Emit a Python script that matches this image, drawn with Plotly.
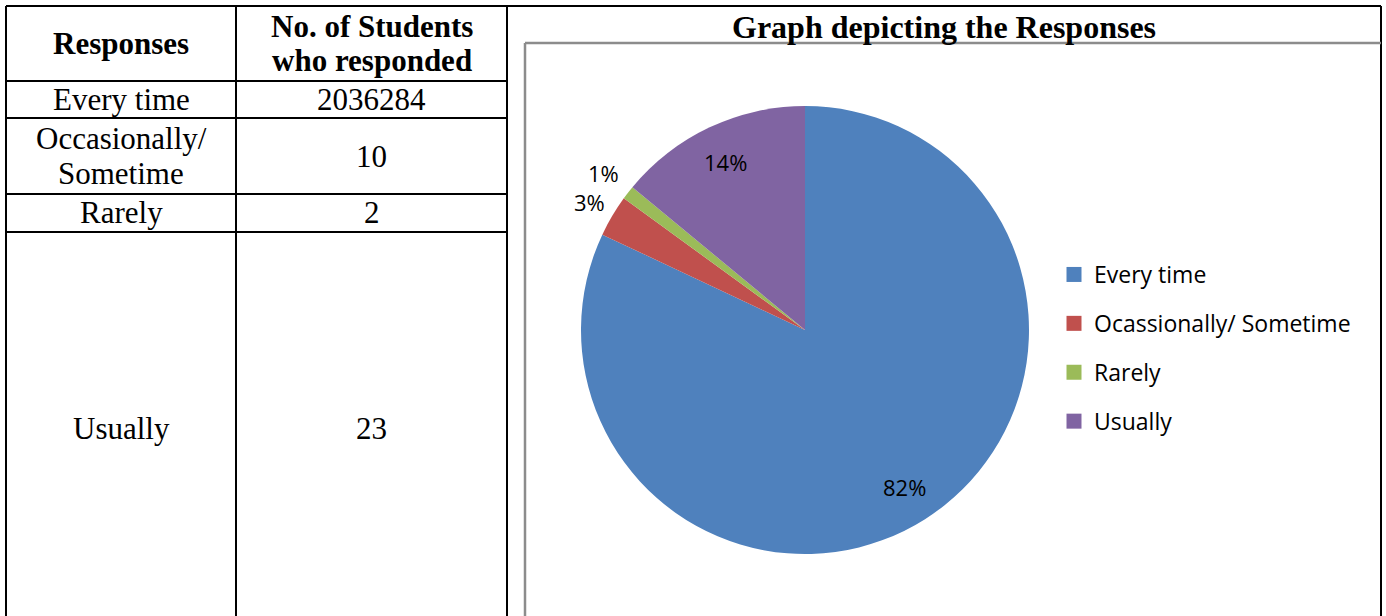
import math
import plotly.graph_objects as go

# ---- data ----
responses = ["Every time", "Occasionally/\nSometime", "Rarely", "Usually"]
students = ["2036284", "10", "2", "23"]
header = ["Responses", "No. of Students\nwho responded"]
pie_labels = ["Every time", "Ocassionally/ Sometime", "Rarely", "Usually"]
pie_percent = [82, 3, 1, 14]
chart_title = "Graph depicting the Responses"

colors = ["#4F81BD", "#C0504D", "#9BBB59", "#8064A2"]
label_radius = [0.83, 1.12, 1.14, 0.83]  # label distance as fraction of pie radius

W, H = 1386, 616
SERIF = "Liberation Serif"
SANS = "Open Sans"

# layout geometry (pixels)
row_edges = [6, 81, 118, 194, 232, 624]
col_edges = [6, 236, 507]
right_edge = 1381
frame_left, frame_top = 525, 43


def px(x):
    return x / W


def py(y):
    return 1 - y / H


shapes = []
annotations = []


def line(x0, y0, x1, y1, color="black", width=2):
    shapes.append(dict(type="line", xref="paper", yref="paper",
                       x0=px(x0), y0=py(y0), x1=px(x1), y1=py(y1),
                       line=dict(color=color, width=width)))


# table grid
line(col_edges[0], row_edges[0], right_edge, row_edges[0])
for y in row_edges[1:-1]:
    line(col_edges[0], y, col_edges[-1], y)
for x in col_edges:
    line(x, row_edges[0], x, H)
line(right_edge, row_edges[0], right_edge, H)
# chart frame (gray)
line(frame_left, frame_top, right_edge, frame_top, color="#8C8C8C", width=2.5)
line(frame_left, frame_top, frame_left, H, color="#8C8C8C", width=2.5)


def cell_text(text, col, row, bold=False, size=31):
    lines = text.split("\n")
    cx = (col_edges[col] + col_edges[col + 1]) / 2
    cy = (row_edges[row] + row_edges[row + 1]) / 2
    step = 35
    start = cy - step * (len(lines) - 1) / 2
    for i, t in enumerate(lines):
        annotations.append(dict(
            xref="paper", yref="paper", x=px(cx), y=py(start + i * step),
            xanchor="center", yanchor="middle", showarrow=False,
            text=f"<b>{t}</b>" if bold else t,
            font=dict(family=SERIF, size=size, color="black")))


for c, h in enumerate(header):
    cell_text(h, c, 0, bold=True)
for r, (lab, n) in enumerate(zip(responses, students)):
    cell_text(lab, 0, r + 1)
    cell_text(n, 1, r + 1)

annotations.append(dict(
    xref="paper", yref="paper", x=px(944), y=py(27),
    xanchor="center", yanchor="middle", showarrow=False,
    text=f"<b>{chart_title}</b>",
    font=dict(family=SERIF, size=32, color="black")))

fig = go.Figure()

cx, cy, r = 805, 330, 224
fig.add_trace(go.Pie(
    labels=pie_labels, values=pie_percent, sort=False, direction="clockwise",
    rotation=0, marker=dict(colors=colors, line=dict(width=0)),
    textinfo="none",
    showlegend=False, hoverinfo="label+percent",
    domain=dict(x=[px(cx - r), px(cx + r)], y=[py(cy + r), py(cy - r)]),
))

# percentage labels placed at each slice's mid-angle (clockwise from 12 o'clock)
total = sum(pie_percent)
cum = 0
for v, k in zip(pie_percent, label_radius):
    mid = (cum + v / 2) / total * 2 * math.pi
    cum += v
    lx = cx + k * r * math.sin(mid)
    ly = cy - k * r * math.cos(mid)
    annotations.append(dict(
        xref="paper", yref="paper", x=px(lx), y=py(ly),
        xanchor="center", yanchor="middle", showarrow=False,
        text=f"{round(v / total * 100)}%",
        font=dict(family=SANS, size=22, color="black")))

# legend entries
for lab, col in zip(pie_labels, colors):
    fig.add_trace(go.Scatter(
        x=[None], y=[None], mode="markers", name=lab, legendgroup=lab,
        marker=dict(symbol="square", size=15, color=col),
    ))

fig.update_layout(
    width=W, height=H, margin=dict(l=0, r=0, t=0, b=0),
    paper_bgcolor="white", plot_bgcolor="white",
    xaxis=dict(visible=False), yaxis=dict(visible=False),
    shapes=shapes, annotations=annotations,
    legend=dict(x=px(1054), y=py(348), xanchor="left", yanchor="middle",
                font=dict(family=SANS, size=23, color="black"),
                tracegroupgap=16, bgcolor="rgba(0,0,0,0)"),
)

fig.write_html("out.html", config={"displayModeBar": False},
               post_script="document.body.style.margin='0';")
